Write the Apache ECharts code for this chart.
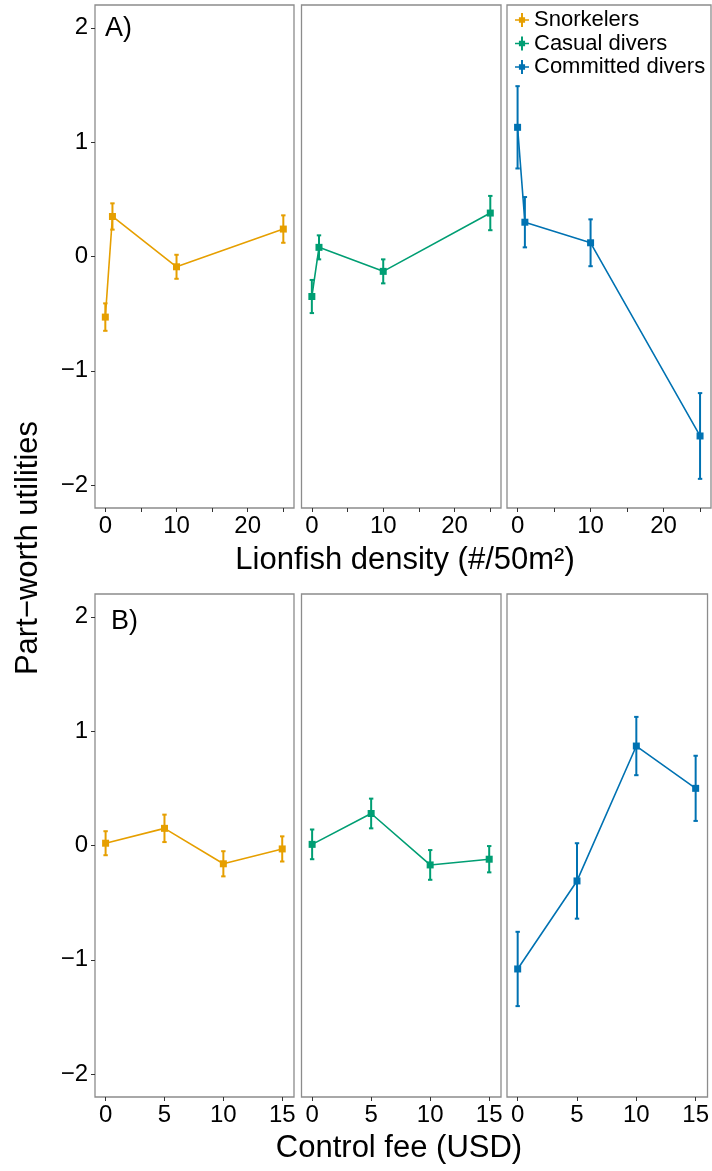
<!DOCTYPE html>
<html>
<head>
<meta charset="utf-8">
<script src="https://cdn.jsdelivr.net/npm/echarts@6/dist/echarts.min.js"></script>
<style>
  html, body { margin: 0; padding: 0; background: #fff; }
  #chart { width: 712px; height: 1171px; }
</style>
</head>
<body>
<div id="chart"></div>
<script>
// groups and colours
var groups = ["Snorkelers", "Casual divers", "Committed divers"];
var groupColors = ["#E69F00", "#009E73", "#0072B2"];

// A) lionfish density
var densityX = [0, 1, 10, 25];
var densityTicks = [0, 5, 10, 15, 20, 25];
var densityLabels = [0, 10, 20];
var snorkDensity = [-0.53, 0.35, -0.09, 0.24];
var snorkDensityErr = [0.12, 0.115, 0.105, 0.12];
var casualDensity = [-0.35, 0.08, -0.13, 0.38];
var casualDensityErr = [0.145, 0.105, 0.105, 0.15];
var committedDensity = [1.13, 0.30, 0.12, -1.57];
var committedDensityErr = [0.36, 0.22, 0.205, 0.375];

// B) control fee
var feeX = [0, 5, 10, 15];
var feeTicks = [0, 5, 10, 15];
var snorkFee = [0.02, 0.15, -0.16, -0.03];
var snorkFeeErr = [0.105, 0.12, 0.11, 0.11];
var casualFee = [0.01, 0.28, -0.17, -0.12];
var casualFeeErr = [0.13, 0.13, 0.13, 0.115];
var committedFee = [-1.08, -0.31, 0.87, 0.50];
var committedFeeErr = [0.325, 0.33, 0.255, 0.285];

var yTicks = [-2, -1, 0, 1, 2];

var FONT = "'Liberation Sans', Arial, Helvetica, sans-serif";

var panels = [
    { row: 0, g: 0, x: densityX, y: snorkDensity, e: snorkDensityErr },
    { row: 0, g: 1, x: densityX, y: casualDensity, e: casualDensityErr },
    { row: 0, g: 2, x: densityX, y: committedDensity, e: committedDensityErr },
    { row: 1, g: 0, x: feeX, y: snorkFee, e: snorkFeeErr },
    { row: 1, g: 1, x: feeX, y: casualFee, e: casualFeeErr },
    { row: 1, g: 2, x: feeX, y: committedFee, e: committedFeeErr },
];

var colLeft = [95, 301.5, 507];
var colWidth = [199, 199.5, 204];
var rowTop = [5, 594];
var rowHeight = 503;

function minusFmt(v) {
    return v < 0 ? "\u2212" + Math.abs(v) : String(v);
}

function renderErrorBar(params, api) {
    var x = api.value(0);
    var top = api.coord([x, api.value(2)]);
    var bot = api.coord([x, api.value(1)]);
    var half = 2.2;
    var style = { stroke: api.visual("color"), lineWidth: 2 };
    return {
        type: "group",
        children: [
            { type: "line", shape: { x1: top[0], y1: top[1], x2: bot[0], y2: bot[1] }, style: style },
            { type: "line", shape: { x1: top[0] - half, y1: top[1], x2: top[0] + half, y2: top[1] }, style: style },
            { type: "line", shape: { x1: bot[0] - half, y1: bot[1], x2: bot[0] + half, y2: bot[1] }, style: style },
        ],
    };
}

var grid = [], xAxis = [], yAxis = [], series = [];

panels.forEach(function (p, i) {
    var isDensity = p.row === 0;
    grid.push({
        left: colLeft[p.g],
        top: rowTop[p.row],
        width: colWidth[p.g],
        height: rowHeight,
        show: true,
        borderColor: "#8c8c8c",
        borderWidth: 1.3,
        backgroundColor: "#fff",
    });
    xAxis.push({
        type: "value",
        gridIndex: i,
        position: "bottom",
        min: isDensity ? -1.45 : -0.9,
        max: isDensity ? 26.5 : 16,
        splitLine: { show: false },
        axisLine: { show: false, onZero: false },
        axisTick: {
            show: true,
            length: 4,
            lineStyle: { color: "#333", width: 1 },
            customValues: isDensity ? densityTicks : feeTicks,
        },
        axisLabel: {
            show: true,
            margin: 6,
            color: "#000",
            fontSize: 24,
            fontFamily: FONT,
            customValues: isDensity ? densityLabels : feeTicks,
            formatter: minusFmt,
        },
    });
    yAxis.push({
        type: "value",
        gridIndex: i,
        position: "left",
        min: -2.2,
        max: 2.2,
        splitLine: { show: false },
        axisLine: { show: false, onZero: false },
        axisTick: {
            show: p.g === 0,
            length: 4,
            lineStyle: { color: "#333", width: 1 },
            customValues: yTicks,
        },
        axisLabel: {
            show: p.g === 0,
            margin: 7,
            color: "#000",
            fontSize: 24,
            fontFamily: FONT,
            customValues: yTicks,
            formatter: minusFmt,
        },
    });

    var color = groupColors[p.g];
    var errData = p.x.map(function (xv, k) {
        return [xv, p.y[k] - p.e[k], p.y[k] + p.e[k]];
    });
    series.push({
        name: groups[p.g] + " error",
        type: "custom",
        xAxisIndex: i,
        yAxisIndex: i,
        renderItem: renderErrorBar,
        encode: { x: 0, y: [1, 2] },
        itemStyle: { color: color },
        data: errData,
        z: 2,
        silent: true,
    });
    series.push({
        name: groups[p.g],
        type: "line",
        xAxisIndex: i,
        yAxisIndex: i,
        data: p.x.map(function (xv, k) { return [xv, p.y[k]]; }),
        symbol: "rect",
        symbolSize: 7,
        showAllSymbol: true,
        lineStyle: { color: color, width: 1.6 },
        itemStyle: { color: color },
        z: 3,
        animation: false,
    });
});

var chart = echarts.init(document.getElementById("chart"), null, { renderer: "canvas" });
chart.setOption({
    animation: false,
    backgroundColor: "#fff",
    textStyle: { fontFamily: FONT },
    grid: grid,
    xAxis: xAxis,
    yAxis: yAxis,
    legend: {
        data: groups,
        orient: "vertical",
        left: 510,
        top: 4,
        itemWidth: 14,
        itemHeight: 14,
        itemGap: 1.5,
        icon: "path://M4.3,0H5.7V3H7.2V4.5H10V5.5H7.2V7H5.7V10H4.3V7H2.8V5.5H0V4.5H2.8V3H4.3Z",
        textStyle: { fontSize: 22, color: "#000", fontFamily: FONT, lineHeight: 22 },
        selectedMode: false,
    },
    graphic: [
        { type: "text", left: 105, top: 15, style: { text: "A)", fontSize: 27, fill: "#000", fontFamily: FONT } },
        { type: "text", left: 111, top: 608, style: { text: "B)", fontSize: 27, fill: "#000", fontFamily: FONT } },
        {
            type: "text", x: 405, y: 560,
            style: { text: "Lionfish density (#/50m\u00B2)", fontSize: 31, fill: "#000", fontFamily: FONT, align: "center", verticalAlign: "middle" },
        },
        {
            type: "text", x: 399, y: 1148,
            style: { text: "Control fee (USD)", fontSize: 31, fill: "#000", fontFamily: FONT, align: "center", verticalAlign: "middle" },
        },
        {
            type: "text", x: 28, y: 548, rotation: Math.PI / 2,
            style: { text: "Part\u2212worth utilities", fontSize: 31, fill: "#000", fontFamily: FONT, align: "center", verticalAlign: "middle" },
        },
    ],
    series: series,
});
</script>
</body>
</html>
